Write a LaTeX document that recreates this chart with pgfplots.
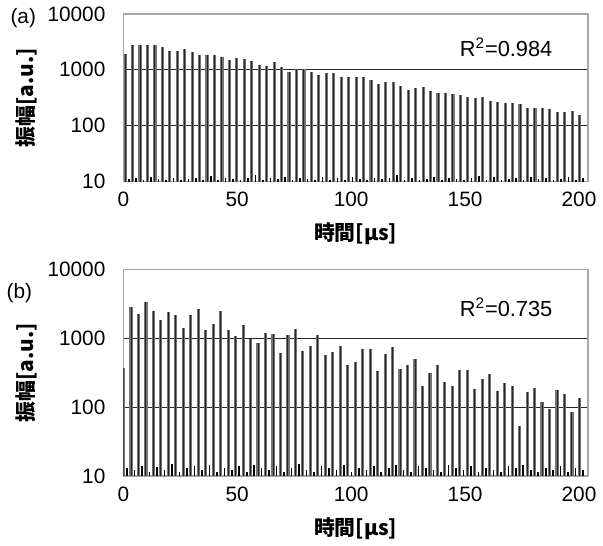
\documentclass[border=0pt]{standalone}
\usepackage{pgfplots}
\pgfplotsset{compat=1.18}
\usepackage{pgfplotstable}
\usepackage{fontspec}
\setmainfont{Liberation Sans}
\newfontfamily\cjk{Noto Sans CJK JP}

% echo train (a): peak time [us], peak amplitude, baseline noise
\pgfplotstableread{
t pk nz
0.8 1900 11
4.07 2750 11.5
7.34 2750 10.5
10.61 2750 12
13.88 2750 11
17.15 2600 10.5
20.42 2150 11.5
23.69 2200 10.5
26.96 2350 11
30.23 2080 11.5
33.5 1810 10.5
36.77 1880 12.5
40.04 1810 10.5
43.31 1700 11.5
46.58 1480 11
49.85 1620 10.5
53.12 1570 11.5
56.39 1420 13
59.66 1210 10.5
62.93 1170 11.5
66.2 1380 11
69.47 1130 12
72.74 920 10.5
76.01 1040 11.5
79.28 1040 11
82.55 920 10.5
85.82 810 12
89.09 880 10.5
92.36 880 11.5
95.63 750 10.5
98.9 750 12
102.17 740 11
105.44 730 10.5
108.71 660 11.5
111.98 560 11
115.25 600 11.5
118.52 600 13
121.79 520 10.5
125.06 440 11.5
128.33 470 10.5
131.6 500 11
134.87 410 12
138.14 385 10.5
141.41 390 11.5
144.68 375 11
147.95 355 10.5
151.22 325 11.5
154.49 315 12.5
157.76 325 10.5
161.03 275 12
164.3 265 10.5
167.57 250 11
170.84 250 11.5
174.11 240 10.5
177.38 210 12
180.65 210 11
183.92 205 11.5
187.19 195 10.5
190.46 172 11
193.73 172 12
197.0 185 10.5
200.27 155 11.5
}\peaksa

% echo train (b)
\pgfplotstableread{
t pk nz
0.1 370 13
3.38 2890 12
6.66 2250 14
9.94 3420 11.5
13.22 2520 13.5
16.5 1840 12
19.78 2390 15
23.06 2200 11.5
26.34 1440 13
29.62 2180 14
32.9 2670 12
36.18 1310 14.5
39.46 1610 11.5
42.74 2520 13
46.02 1310 12
49.3 1080 14
52.58 1550 11.5
55.86 970 14.5
59.14 860 13
62.42 1210 12
65.7 1150 14
68.98 620 11.5
72.26 1110 13
75.54 1360 15
78.82 650 12
82.1 770 11.5
85.38 1120 14
88.66 580 13
91.94 635 12
95.22 770 14.5
98.5 415 11.5
101.78 450 13
105.06 710 12
108.34 710 14
111.62 330 11.5
114.9 600 13
118.18 745 14.5
121.46 360 12
124.74 415 11.5
128.02 510 14
131.3 200 13
134.58 310 12
137.86 415 11.5
141.14 235 14.5
144.42 205 13
147.7 350 12
150.98 350 14
154.26 184 11.5
157.54 258 13
160.82 303 12
164.1 172 11.5
167.38 223 14
170.66 200 13
173.94 53 14.5
177.22 165 12
180.5 192 11.5
183.78 120 13
187.06 93 12
190.34 178 14
193.62 154 11.5
196.9 85 13
200.18 137 12
}\peaksb

\begin{document}
\begin{tikzpicture}
\begin{axis}[
    scale only axis, width=234.5pt, height=84.5pt,
    at={(0,148.5pt)}, anchor=south west,
    clip mode=individual,
    xmin=0, xmax=204,
    ymode=log, ymin=10, ymax=10000,
    xtick={0,50,100,150,200},
    ytick={10,100,1000,10000},
    yticklabels={10,100,1000,10000},
    yminorticks=false,
    ymajorgrids=true,
    major grid style={black!85, line width=0.55pt},
    major tick length=0pt,
    axis line style={gray!70, line width=0.7pt},
    /pgf/number format/assume math mode=true,
    tick label style={font=\fontsize{10.5}{12}\selectfont},
    yticklabel style={xshift=-5.5pt},
    xticklabel style={yshift=-2pt},
    xlabel style={at={(axis description cs:0.5,0)}, anchor=center, yshift=-26.5pt, font=\fontsize{10.5}{12}\selectfont},
    ylabel style={at={(axis description cs:0,0.5)}, anchor=center, yshift=49pt, font=\fontsize{10.5}{12}\selectfont},
    xlabel={\cjk\bfseries 時間[μs]},
    ylabel={\cjk\bfseries 振幅[a.u.]},
]
\addplot[ycomb, draw=black!55, line width=1.6pt, mark=none] table[x=t, y=pk] {\peaksa};
\addplot[ycomb, draw=black!85, line width=0.5pt, mark=none] table[x=t, y=pk] {\peaksa};
\addplot[ycomb, draw=black, line width=0.8pt, mark=none] table[x expr=\thisrow{t}+1.6, y=nz] {\peaksa};
\node[font=\fontsize{11}{13}\selectfont] at (axis cs:168,2500) {R\textsuperscript{2}=0.984};
\node[font=\fontsize{10.5}{12}\selectfont, anchor=east, xshift=-40.5pt, yshift=-2pt] at (rel axis cs:0,1) {(a)};
\end{axis}
\begin{axis}[
    scale only axis, width=234.5pt, height=104pt,
    at={(0,0)}, anchor=south west,
    clip mode=individual,
    xmin=0, xmax=204,
    ymode=log, ymin=10, ymax=10000,
    xtick={0,50,100,150,200},
    ytick={10,100,1000,10000},
    yticklabels={10,100,1000,10000},
    yminorticks=false,
    ymajorgrids=true,
    major grid style={black!85, line width=0.55pt},
    major tick length=0pt,
    axis line style={gray!70, line width=0.7pt},
    /pgf/number format/assume math mode=true,
    tick label style={font=\fontsize{10.5}{12}\selectfont},
    yticklabel style={xshift=-5.5pt},
    xticklabel style={yshift=-2pt},
    xlabel style={at={(axis description cs:0.5,0)}, anchor=center, yshift=-26.5pt, font=\fontsize{10.5}{12}\selectfont},
    ylabel style={at={(axis description cs:0,0.5)}, anchor=center, yshift=49pt, font=\fontsize{10.5}{12}\selectfont},
    xlabel={\cjk\bfseries 時間[μs]},
    ylabel={\cjk\bfseries 振幅[a.u.]},
]
\addplot[ycomb, draw=black!55, line width=1.6pt, mark=none] table[x=t, y=pk] {\peaksb};
\addplot[ycomb, draw=black!85, line width=0.5pt, mark=none] table[x=t, y=pk] {\peaksb};
\addplot[ycomb, draw=black, line width=0.8pt, mark=none] table[x expr=\thisrow{t}+1.6, y=nz] {\peaksb};
\node[font=\fontsize{11}{13}\selectfont] at (axis cs:168,2860) {R\textsuperscript{2}=0.735};
\node[font=\fontsize{10.5}{12}\selectfont, anchor=east, xshift=-42.5pt, yshift=-12pt] at (rel axis cs:0,1) {(b)};
\end{axis}
\end{tikzpicture}
\end{document}
